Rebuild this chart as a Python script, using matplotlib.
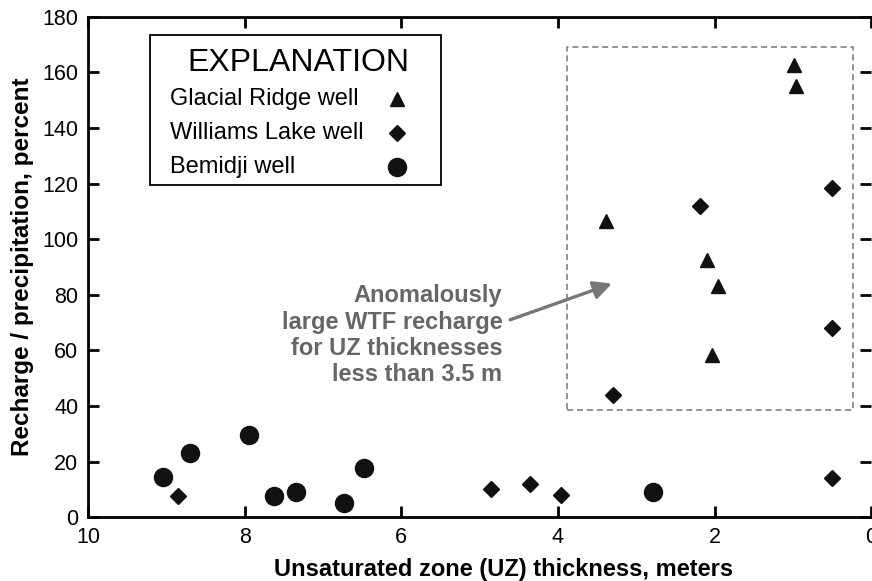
import matplotlib
matplotlib.use("Agg")
import matplotlib.pyplot as plt
from matplotlib.patches import Rectangle

plt.rcParams["font.family"] = ["Liberation Sans", "DejaVu Sans"]

# Glacial Ridge well (triangles)
glacial_x = [3.39, 0.98, 0.96, 2.10, 1.96, 2.03]
glacial_y = [106.5, 162.5, 155.0, 92.5, 83.0, 58.5]

# Williams Lake well (diamonds)
williams_x = [8.85, 4.85, 4.36, 3.96, 3.30, 2.19, 0.50, 0.50, 0.50]
williams_y = [7.5, 10.0, 12.0, 8.0, 44.0, 112.0, 118.5, 68.0, 14.0]

# Bemidji well (circles)
bemidji_x = [9.04, 8.70, 7.94, 7.62, 7.34, 6.73, 6.47, 2.78]
bemidji_y = [14.5, 23.0, 29.5, 7.5, 9.0, 5.0, 17.5, 9.0]

# dashed outline of the anomalous group: x from, x to, y from, y to
box_x = [3.89, 0.23]
box_y = [38.5, 169.0]

note_lines = ["Anomalously", "large WTF recharge", "for UZ thicknesses", "less than 3.5 m"]
legend_labels = ["Glacial Ridge well", "Williams Lake well", "Bemidji well"]

fig = plt.figure(figsize=(8.72, 5.81), dpi=100)
ax = fig.add_axes([0.101, 0.110, 0.898, 0.861])

mk = dict(color="#111111", linestyle="none")
styles = [dict(marker="^", markersize=10), dict(marker="D", markersize=8.5),
          dict(marker="o", markersize=13)]
ax.plot(glacial_x, glacial_y, **styles[0], **mk)
ax.plot(williams_x, williams_y, **styles[1], **mk)
ax.plot(bemidji_x, bemidji_y, **styles[2], **mk)

ax.plot([box_x[0], box_x[1], box_x[1], box_x[0], box_x[0]],
        [box_y[0], box_y[0], box_y[1], box_y[1], box_y[0]],
        color="#777777", linestyle=(0, (4, 2.5)), linewidth=1.1)

ax.text(4.71, 65.5, "\n".join(note_lines), ha="right", va="center",
        multialignment="right", fontsize=17, fontweight="bold",
        color="#666666", linespacing=1.17)
ax.annotate("", xy=(3.31, 84), xytext=(4.61, 71),
            arrowprops=dict(arrowstyle="-|>,head_length=1.1,head_width=0.55",
                            color="#777777", lw=2.4, shrinkA=0, shrinkB=0))

ax.set_xlim(10, 0)
ax.set_ylim(0, 180)
ax.set_xticks([10, 8, 6, 4, 2, 0])
ax.set_yticks(range(0, 181, 20))
ax.tick_params(direction="in", length=8, width=2, labelsize=15.5,
               top=True, right=True, pad=7, colors="black")
ax.set_xlabel("Unsaturated zone (UZ) thickness, meters", fontsize=17,
              fontweight="bold", va="center")
ax.xaxis.set_label_coords(0.53, -0.105)
ax.set_ylabel("Recharge / precipitation, percent", fontsize=17.5,
              fontweight="bold", labelpad=6)
for side in ["left", "bottom", "top"]:
    ax.spines[side].set_linewidth(2)
ax.spines["right"].set_visible(False)

# "EXPLANATION" key box, drawn in axes fractions
ax.add_patch(Rectangle((0.079, 0.664), 0.372, 0.300, transform=ax.transAxes,
                       facecolor="white", edgecolor="black", linewidth=1.3,
                       zorder=3))
ax.text(0.269, 0.908, "EXPLANATION", transform=ax.transAxes, ha="center",
        va="center", fontsize=23, zorder=4)
for i, (label, st) in enumerate(zip(legend_labels, styles)):
    yy = 0.836 - i * 0.068
    ax.text(0.105, yy, label, transform=ax.transAxes, ha="left", va="center",
            fontsize=17, zorder=4)
    ax.plot([0.395], [yy], transform=ax.transAxes, zorder=4, **st, **mk)

fig.savefig("out.png", dpi=100)
